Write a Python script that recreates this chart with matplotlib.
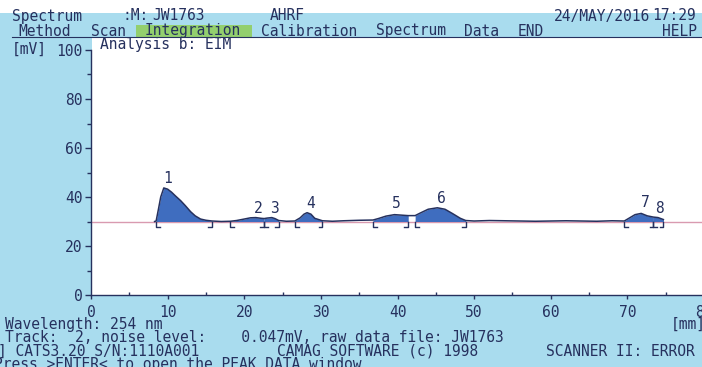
import matplotlib
matplotlib.use("Agg")
from matplotlib import pyplot as plt
from matplotlib.patches import Rectangle
import numpy as np

trace_x = [8.3, 8.5, 8.8, 9.1, 9.5, 10.0, 10.5, 11.0, 11.7, 12.3, 13.0, 13.6, 14.3,
           15.0, 15.8, 17.0, 18.2, 19.0, 20.0, 20.8, 21.5, 22.2, 22.6, 23.0, 23.6,
           24.0, 24.5, 25.5, 26.6, 27.3, 27.8, 28.2, 28.7, 29.2, 30.2, 31.5, 33.0,
           35.0, 36.8, 37.5, 38.5, 39.6, 40.5, 41.4, 42.3, 43.0, 44.0, 45.2, 46.2,
           47.2, 48.2, 48.9, 50.0, 52.0, 54.0, 56.0, 58.0, 60.0, 62.0, 64.0, 66.0,
           68.0, 69.6, 70.3, 71.0, 71.8, 72.6, 73.4, 74.0, 74.7]
trace_y = [30.0, 30.2, 35.0, 40.0, 43.7, 43.2, 42.0, 40.5, 38.5, 36.5, 34.0, 32.3, 31.0,
           30.5, 30.2, 30.0, 30.1, 30.4, 31.0, 31.5, 31.6, 31.3, 31.2, 31.4, 31.6,
           31.2, 30.4, 30.1, 30.2, 31.5, 33.0, 33.6, 33.0, 31.3, 30.3, 30.1, 30.3,
           30.5, 30.6, 31.2, 32.2, 32.8, 32.6, 32.4, 32.4, 33.5, 35.0, 35.6, 35.0,
           33.2, 31.3, 30.4, 30.2, 30.4, 30.3, 30.2, 30.1, 30.2, 30.3, 30.2, 30.1,
           30.3, 30.2, 31.5, 32.8, 33.3, 32.3, 31.8, 31.6, 30.8]

baseline = 30

# picos integrados
peak_start = [8.5, 18.2, 22.6, 26.6, 36.8, 42.3, 69.6, 73.4]
peak_end = [15.8, 22.6, 24.5, 30.2, 41.4, 48.9, 73.4, 74.7]
peak_names = ["1", "2", "3", "4", "5", "6", "7", "8"]
label_x = [10.0, 21.8, 24.0, 28.6, 39.9, 45.7, 72.3, 74.2]
label_y = [47.4, 35.2, 35.2, 37.2, 37.2, 39.3, 37.6, 35.2]

W, H = 702, 367
cyan = "#a9dcee"
navy = "#26315e"
mono = "DejaVu Sans Mono"
fs = 10.5


def fx(x):
    return x / W


def fy(y):
    return 1 - y / H


def txt(x, y, s, **kw):
    fig.text(fx(x), fy(y), s, family=mono, fontsize=fs, color=navy,
             va="center", ha=kw.pop("ha", "left"), **kw)


fig = plt.figure(figsize=(7.02, 3.67), dpi=100)
fig.patch.set_facecolor(cyan)

# margen blanco arriba y zona blanca del grafico
fig.add_artist(Rectangle((0, fy(13)), 1, 1 - fy(13), transform=fig.transFigure,
                         facecolor="white", edgecolor="none", zorder=0))
fig.add_artist(Rectangle((fx(92), fy(295)), 1 - fx(92), fy(38) - fy(295),
                         transform=fig.transFigure, facecolor="white",
                         edgecolor="none", zorder=0))
# resaltado del menu
fig.add_artist(Rectangle((fx(136), fy(38)), fx(252) - fx(136), fy(25) - fy(38),
                         transform=fig.transFigure, facecolor="#93cf6e",
                         edgecolor="none", zorder=0))
fig.add_artist(plt.Line2D([fx(12), 1], [fy(37), fy(37)], transform=fig.transFigure,
                          color=navy, lw=0.8))

# cabecera
txt(12, 16, "Spectrum")
txt(122, 16, ":M:")
txt(152, 16, "JW1763")
txt(270, 16, "AHRF")
txt(554, 16, "24/MAY/2016")
txt(652, 16, "17:29")
txt(18, 31, "Method")
txt(91, 31, "Scan")
txt(145, 31, "Integration")
txt(261, 31, "Calibration")
txt(376, 31, "Spectrum")
txt(464, 31, "Data")
txt(518, 31, "END")
txt(662, 31, "HELP")

txt(12, 49, "[mV]")
txt(100, 44, "Analysis b: EIM")
txt(671, 324, "[mm]")

# pie
txt(5, 324, "Wavelength: 254 nm")
txt(5, 338, "Track:  2, noise level:    0.047mV, raw data file: JW1763")
txt(-2, 351, "] CATS3.20 S/N:1110A001")
txt(277, 351, "CAMAG SOFTWARE (c) 1998")
txt(546, 351, "SCANNER II: ERROR")
txt(-6, 364, "Press >ENTER< to open the PEAK DATA window")

ax = fig.add_axes([fx(91), fy(295), (704 - 91) / W, (295 - 50) / H])
ax.patch.set_alpha(0)
ax.set_xlim(0, 80)
ax.set_ylim(0, 100)
for s in ["top", "right"]:
    ax.spines[s].set_visible(False)
for s in ["left", "bottom"]:
    ax.spines[s].set_color(navy)
    ax.spines[s].set_linewidth(1)

ax.set_xticks(np.arange(0, 81, 10))
ax.set_xticks(np.arange(5, 80, 10), minor=True)
ax.set_yticks(np.arange(0, 101, 20))
ax.set_yticks(np.arange(10, 100, 20), minor=True)
ax.tick_params(axis="x", which="major", direction="out", length=3, width=1,
               color=navy, pad=4, labelsize=fs, labelcolor=navy)
ax.tick_params(axis="x", which="minor", direction="in", length=2, width=1, color=navy)
ax.tick_params(axis="y", which="major", direction="out", length=4, width=1,
               color=navy, pad=2, labelsize=fs, labelcolor=navy)
ax.tick_params(axis="y", which="minor", direction="out", length=3, width=1, color=navy)
for lab in ax.get_xticklabels() + ax.get_yticklabels():
    lab.set_family(mono)

# linea base
ax.plot([0, 80], [baseline, baseline], color="#d99ab0", lw=1, zorder=1)

tx = np.array(trace_x)
ty = np.array(trace_y)
for a, b in zip(peak_start, peak_end):
    m = (tx >= a) & (tx <= b)
    ax.fill_between(tx[m], baseline, ty[m], color="#3f6dbf", lw=0, zorder=2)
ax.plot(tx, ty, color=navy, lw=1.1, zorder=3)

# marcas de integracion
bh = 2.4
foot = 0.5
for a, b in zip(peak_start, peak_end):
    ax.plot([a, a, a + foot], [baseline, baseline - bh, baseline - bh], color=navy, lw=1, zorder=3)
    ax.plot([b, b, b - foot], [baseline, baseline - bh, baseline - bh], color=navy, lw=1, zorder=3)

for n, lx, ly in zip(peak_names, label_x, label_y):
    ax.text(lx, ly, n, family=mono, fontsize=fs, color=navy, ha="center", va="center")

plt.savefig("out.png", dpi=100, facecolor=fig.get_facecolor())
